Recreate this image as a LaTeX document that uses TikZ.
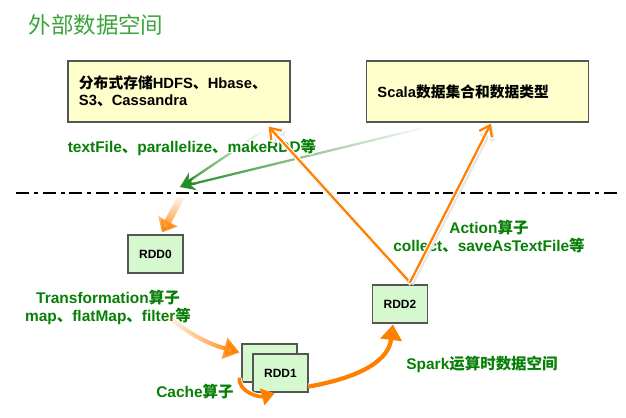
\documentclass[tikz,border=0pt]{standalone}
\usepackage{fontspec}
\setmainfont{Liberation Sans}
\newfontfamily\cjk{Noto Sans CJK SC}
\usepackage{contour}
\contourlength{1.3pt}
\contournumber{12}
\usetikzlibrary{arrows.meta,positioning,calc,fadings}
\newcommand{\zh}[1]{{\cjk #1}}
\newcommand{\halo}[1]{\contour{white}{#1}}
\definecolor{boxyellow}{RGB}{255,255,204}
\definecolor{rddgreen}{RGB}{214,248,206}
\definecolor{rim}{RGB}{85,85,85}
\definecolor{taggreen}{RGB}{8,128,8}
\definecolor{headgreen}{RGB}{60,165,60}
\definecolor{arrgreen}{RGB}{34,140,34}
\definecolor{sparkorange}{RGB}{255,128,0}
\tikzfading[name=tail right, left color=transparent!0, right color=transparent!100]
\tikzfading[name=tail left, left color=transparent!100, right color=transparent!0]
\tikzfading[name=tail up, top color=transparent!100, bottom color=transparent!0]
\tikzset{
  %Define style for outer boxes
  extbox/.style={
    rectangle,
    draw=rim, thick,
    fill=boxyellow,
    minimum width=5.55cm,
    minimum height=1.525cm,
    text width=5cm,
    align=left,
    font=\fontsize{10.5}{12}\selectfont\bfseries},
  %Define style for RDD boxes
  rdd/.style={
    rectangle,
    draw=rim, thick,
    fill=rddgreen,
    minimum width=1.375cm,
    minimum height=0.95cm,
    font=\fontsize{8.5}{10}\selectfont\bfseries},
  % Define label style
  tag/.style={
    text=taggreen,
    inner sep=0pt,
    align=center,
    font=\fontsize{11}{12.8}\selectfont\bfseries},
  % Define arrow styles
  act/.style={
    -{Straight Barb[length=7pt,width=10pt]},
    draw=sparkorange,
    line width=1.6pt,
    preaction={draw=black!10, line width=3.4pt, transform canvas={shift={(1pt,-1.2pt)}}},
    preaction={draw=white, line width=3.2pt}},
  fat/.style={
    -{Triangle[length=11pt,width=15pt]},
    draw=sparkorange,
    line width=3pt},
  grn/.style={
    -{Stealth[length=11pt,width=10pt]},
    draw=arrgreen,
    line width=1.6pt}
}
\begin{document}
\begin{tikzpicture}[x=0.025cm,y=0.025cm]
  \useasboundingbox (0,0) rectangle (626,-418);
  \node[text=headgreen, font=\fontsize{16}{18}\selectfont] (title) at (96,-26) {\halo{\zh{外部数据空间}}};
  % outer data
  \node[extbox] (hdfs) at (179,-91.5) {\zh{分布式存储}HDFS\zh{、}Hbase\zh{、}\\S3\zh{、}Cassandra};
  \node[extbox] (scala) at (477.5,-91.5) {Scala\zh{数据集合和数据类型}};
  % border between the two spaces
  \coordinate (sepl) at (16,-193);
  \coordinate (sepr) at (617,-193);
  \draw[line width=2.1pt, dash pattern=on 9.2pt off 3.5pt on 2.8pt off 3.5pt] (sepl) -- (sepr);
  % RDDs
  \node[rdd] (rdd0) at (155.5,-254) {RDD0};
  \node[rdd] (rdd1b) at (269.5,-363) {};
  \node[rdd] (rdd1) at ($(rdd1b)+(11,-10)$) {RDD1};
  \node[rdd] (rdd2) at (400,-304) {RDD2};
  % input
  \coordinate (g0) at (180,-187);
  \draw[grn, path fading=tail right] ($(hdfs.south east)+(-27,-8)$) -- (g0);
  \draw[grn, path fading=tail right] ($(scala.south west)+(63,-4)$) -- (g0);
  % labels
  \node[tag] (load) at (192,-148) {\halo{textFile\zh{、}parallelize\zh{、}makeRDD\zh{等}}};
  \node[tag] (trans) at (108,-308) {\halo{Transformation\zh{算子}}\\\halo{map\zh{、}flatMap\zh{、}filter\zh{等}}};
  \node[tag] (action) at (489,-237) {\halo{Action\zh{算子}}\\\halo{collect\zh{、}saveAsTextFile\zh{等}}};
  \node[tag] (cache) at (195,-392) {\halo{Cache\zh{算子}}};
  \node[tag] (spark) at (482,-365) {\halo{Spark\zh{运算时数据空间}}};
  % spark side
  \coordinate (sepin) at (181,-197);
  \draw[fat, line width=5pt, -{Triangle[length=9pt,width=15pt]}, path fading=tail up] (sepin) -- ($(rdd0.north)+(6.5,2)$);
  \draw[fat, path fading=tail left] ($(trans.east)+(-28,-5)$) to[bend right=12] ($(rdd1b.north west)+(-2,-9)$);
  \draw[fat, line width=2.6pt, -{Triangle[length=9pt,width=12pt]}, preaction={draw=white, line width=4pt}] ($(rdd1b.south west)+(-2,5)$) to[out=-95,in=195] ($(rdd1.south west)+(22,-1)$);
  \draw[fat, preaction={draw=white, line width=4.4pt}] ($(rdd1.south east)+(0,6)$) to[out=10,in=-97] ($(rdd2.south)+(-7,-1)$);
  \draw[act] ($(rdd2.north)+(10,2)$) -- ($(hdfs.south east)+(-22,-4)$);
  \draw[act] ($(rdd2.north)+(10,2)$) -- ($(scala.south west)+(125,-1)$);
\end{tikzpicture}
\end{document}
